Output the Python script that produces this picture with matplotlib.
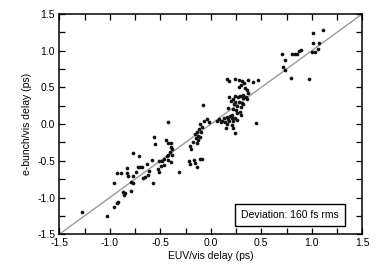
import numpy as np
import matplotlib
matplotlib.use("Agg")
import matplotlib.pyplot as plt
from matplotlib.ticker import MultipleLocator

# -----------------------------
# Data
# -----------------------------
euv_delay = [
    1.114, 1.008, 1.015, 1.074, 1.058, 0.998, 1.030, 0.896, 0.873, 0.807,
    0.830, 0.853, 0.708, 0.738, 0.711, 0.731, 0.797, 0.969, 0.371, 0.464,
    0.418, 0.163, 0.180, 0.239, 0.282, 0.312, 0.328, 0.295, 0.276, 0.338,
    0.355, 0.368, 0.362, 0.315, 0.223, 0.239, 0.276, 0.180, 0.200, 0.170,
    0.229, 0.216, 0.259, 0.302, 0.309, 0.322, 0.266, 0.243, 0.289, 0.318,
    0.348, 0.249, 0.289, 0.295, 0.256, 0.213, 0.190, 0.157, 0.130, 0.173,
    0.206, 0.243, 0.223, 0.183, 0.144, 0.097, 0.081, 0.065, 0.114, 0.163,
    0.150, 0.210, 0.223, 0.239, 0.447, 0.262, -0.041, -0.015, -0.081, -0.064,
    -0.107, -0.091, -0.120, -0.140, -0.157, -0.130, -0.150, -0.124, -0.173, -0.140,
    -0.107, -0.094, -0.206, -0.196, -0.213, -0.206, -0.163, -0.157, -0.140, -0.111,
    -0.088, -0.312, -0.421, -0.563, -0.554, -0.444, -0.419, -0.398, -0.393, -0.383,
    -0.404, -0.421, -0.388, -0.421, -0.398, -0.437, -0.464, -0.484, -0.508, -0.460,
    -0.497, -0.526, -0.510, -0.583, -0.569, -0.612, -0.625, -0.652, -0.675, -0.635,
    -0.678, -0.701, -0.721, -0.708, -0.767, -0.743, -0.767, -0.790, -0.767, -0.790,
    -0.833, -0.833, -0.817, -0.866, -0.850, -0.860, -0.893, -0.926, -0.955, -0.916,
    -0.932, -0.959, -1.031, -1.279,
]
ebunch_delay = [
    1.280, 1.246, 1.110, 1.110, 1.023, 0.987, 0.987, 1.010, 1.000, 0.951,
    0.951, 0.951, 0.951, 0.874, 0.783, 0.737, 0.624, 0.615, 0.601, 0.601,
    0.578, 0.615, 0.588, 0.620, 0.600, 0.583, 0.565, 0.533, 0.502, 0.488,
    0.465, 0.420, 0.338, 0.352, 0.343, 0.297, 0.306, 0.365, 0.320, 0.215,
    0.274, 0.206, 0.247, 0.238, 0.292, 0.274, 0.365, 0.388, 0.388, 0.397,
    0.365, 0.193, 0.170, 0.125, 0.147, 0.125, 0.111, 0.093, 0.079, 0.070,
    0.079, 0.079, 0.047, 0.038, 0.029, 0.029, 0.075, 0.043, 0.043, 0.002,
    -0.057, -0.012, -0.053, -0.125, 0.011, 0.057, 0.070, 0.034, 0.261, 0.047,
    0.002, -0.034, -0.061, -0.102, -0.139, -0.161, -0.193, -0.216, -0.239, -0.261,
    -0.170, -0.107, -0.293, -0.338, -0.502, -0.543, -0.488, -0.533, -0.579, -0.475,
    -0.475, -0.656, 0.025, -0.170, -0.270, -0.216, -0.252, -0.261, -0.307, -0.338,
    -0.375, -0.420, -0.420, -0.488, -0.520, -0.429, -0.479, -0.502, -0.502, -0.552,
    -0.565, -0.611, -0.652, -0.488, -0.806, -0.642, -0.692, -0.724, -0.738, -0.543,
    -0.588, -0.588, -0.579, -0.438, -0.398, -0.656, -0.701, -0.783, -0.806, -0.910,
    -0.602, -0.670, -0.701, -0.919, -0.942, -0.965, -0.670, -0.670, -0.806, -1.056,
    -1.078, -1.133, -1.246, -1.192,
]
axis_range = [-1.5, 1.5]
tick_values = [-1.5, -1.0, -0.5, 0.0, 0.5, 1.0, 1.5]
note_text = "Deviation: 160 fs rms"

# -----------------------------
# Plot
# -----------------------------
plt.rcParams["font.family"] = ["Liberation Sans", "DejaVu Sans"]
plt.rcParams["font.size"] = 7.5

fig = plt.figure(figsize=(3.75, 2.74), dpi=100)
ax = fig.add_axes([0.158, 0.145, 0.808, 0.804])

ax.plot(axis_range, axis_range, color="#9a9a9a", lw=1.0, zorder=1)
ax.scatter(euv_delay, ebunch_delay, s=7, color="#111111", linewidths=0, zorder=2)

ax.set_xlim(axis_range)
ax.set_ylim(axis_range)
ax.set_xticks(tick_values)
ax.set_yticks(tick_values)
ax.xaxis.set_major_formatter(matplotlib.ticker.FormatStrFormatter("%.1f"))
ax.yaxis.set_major_formatter(matplotlib.ticker.FormatStrFormatter("%.1f"))
ax.xaxis.set_minor_locator(MultipleLocator(0.25))
ax.yaxis.set_minor_locator(MultipleLocator(0.25))
ax.tick_params(which="both", direction="in", top=True, right=True, width=0.9)
ax.tick_params(which="major", length=4, pad=3)
ax.tick_params(which="minor", length=4)
for sp in ax.spines.values():
    sp.set_linewidth(1.1)

ax.set_xlabel("EUV/vis delay (ps)", labelpad=2)
ax.set_ylabel("e-bunch/vis delay (ps)", labelpad=4)

ax.text(0.785, -1.237, note_text, ha="center", va="center", fontsize=7.5,
        bbox=dict(boxstyle="square,pad=0.55", fc="white", ec="black", lw=1.0))

fig.savefig("out.png", dpi=100)
